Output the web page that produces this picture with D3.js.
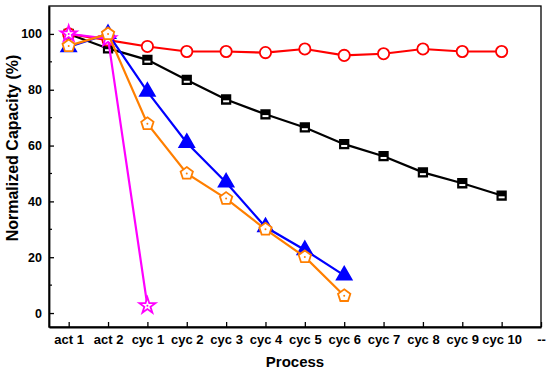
<!DOCTYPE html>
<html>
<head>
<meta charset="utf-8">
<script src="https://cdn.jsdelivr.net/npm/d3@7"></script>
<style>
  body { margin: 0; background: #fff; }
  svg { display: block; font-family: "Liberation Sans", Arial, sans-serif; }
</style>
</head>
<body>
<div id="chart"></div>
<script>
// categories along the x axis
const processes = ["act 1", "act 2", "cyc 1", "cyc 2", "cyc 3", "cyc 4", "cyc 5",
  "cyc 6", "cyc 7", "cyc 8", "cyc 9", "cyc 10", "--"];

// series values (normalized capacity, %)
const blackSq = [100, 94.8, 90.7, 83.5, 76.5, 71.2, 66.5, 60.5, 56.2, 50.4, 46.5, 42.1];
const redCirc = [100, 97.8, 95.5, 93.7, 93.7, 93.3, 94.6, 92.3, 92.9, 94.6, 93.7, 93.7];
const blueTri = [95.3, 100, 79.3, 61.0, 46.8, 30.8, 22.6, 13.5];
const orangePent = [95.7, 100, 67.8, 50.0, 41.0, 30.0, 20.1, 6.2];
const pinkStar = [100, 98.3, 2.6];

const yTicks = [0, 20, 40, 60, 80, 100];
const yMinor = [10, 30, 50, 70, 90];

const width = 550, height = 372;
const margin = { top: 6, right: 9, bottom: 45, left: 49 };

const svg = d3.select("#chart").append("svg")
  .attr("width", width)
  .attr("height", height);

const x = d3.scaleLinear().domain([-0.5, 12]).range([margin.left, width - margin.right]);
const y = d3.scaleLinear().domain([-5, 110]).range([height - margin.bottom, margin.top]);

// frame
svg.append("rect")
  .attr("x", x(-0.5)).attr("y", y(110))
  .attr("width", x(12) - x(-0.5)).attr("height", y(-5) - y(110))
  .attr("fill", "none").attr("stroke", "#000").attr("stroke-width", 1.3);

// x axis
const xAxis = svg.append("g")
  .attr("transform", `translate(0,${y(-5)})`)
  .call(d3.axisBottom(x).tickValues(d3.range(processes.length))
    .tickFormat(i => processes[i]).tickSizeInner(-5).tickSizeOuter(0).tickPadding(8));
xAxis.select(".domain").attr("stroke-width", 1.8);
xAxis.selectAll(".tick line").attr("stroke-width", 1.3);
xAxis.selectAll(".tick text").attr("font-size", 13).attr("font-weight", "bold")
  .attr("fill", "#000");

// y axis
const yAxis = svg.append("g")
  .attr("transform", `translate(${x(-0.5)},0)`)
  .call(d3.axisLeft(y).tickValues(yTicks).tickSizeInner(-5).tickSizeOuter(0).tickPadding(7));
yAxis.select(".domain").attr("stroke-width", 1.8);
yAxis.selectAll(".tick line").attr("stroke-width", 1.3);
yAxis.selectAll(".tick text").attr("font-size", 12.5).attr("font-weight", "bold")
  .attr("fill", "#000");

svg.append("g")
  .selectAll("line")
  .data(yMinor)
  .join("line")
  .attr("x1", x(-0.5)).attr("x2", x(-0.5) + 3)
  .attr("y1", d => y(d)).attr("y2", d => y(d))
  .attr("stroke", "#000").attr("stroke-width", 1.2);

// axis titles
svg.append("text")
  .attr("x", (x(-0.5) + x(12)) / 2).attr("y", 367)
  .attr("text-anchor", "middle")
  .attr("font-size", 15).attr("font-weight", "bold")
  .text("Process");

svg.append("text")
  .attr("transform", "translate(18,148) rotate(-90)")
  .attr("text-anchor", "middle")
  .attr("font-size", 16).attr("font-weight", "bold")
  .text("Normalized Capacity (%)");

// custom pentagon symbol
const symbolPentagon = {
  draw(ctx, size) {
    const r = Math.sqrt(size / 2.378);
    for (let i = 0; i < 5; i++) {
      const a = -Math.PI / 2 + i * 2 * Math.PI / 5;
      if (i === 0) ctx.moveTo(r * Math.cos(a), r * Math.sin(a));
      else ctx.lineTo(r * Math.cos(a), r * Math.sin(a));
    }
    ctx.closePath();
  }
};

const line = d3.line().x((d, i) => x(i)).y(d => y(d));

function drawSeries(values, color, symbolType, size, fill, dot) {
  const g = svg.append("g");
  g.append("path")
    .datum(values)
    .attr("d", line)
    .attr("fill", "none")
    .attr("stroke", color)
    .attr("stroke-width", 2.2);
  const pts = g.selectAll("g.pt")
    .data(values)
    .join("g")
    .attr("class", "pt")
    .attr("transform", (d, i) => `translate(${x(i)},${y(d)})`);
  pts.append("path")
    .attr("d", d3.symbol().type(symbolType).size(size))
    .attr("fill", fill)
    .attr("stroke", color)
    .attr("stroke-width", 1.8);
  if (dot) {
    pts.append("circle").attr("r", 1).attr("fill", color);
  }
  return pts;
}

// black squares with a white bar in the lower half
const sq = drawSeries(blackSq, "#000", d3.symbolSquare, 72, "#000", false);
sq.append("rect")
  .attr("x", -3).attr("y", 0.8).attr("width", 6).attr("height", 2)
  .attr("fill", "#fff");

drawSeries(redCirc, "#ff0000", d3.symbolCircle, 100, "#fff", false);
drawSeries(blueTri, "#0000ff", d3.symbolTriangle, 95, "#0000ff", false);
drawSeries(pinkStar, "#ff00ff", d3.symbolStar, 80, "#fff", true);
drawSeries(orangePent, "#ff7f00", symbolPentagon, 100, "#fff", true);
</script>
</body>
</html>
